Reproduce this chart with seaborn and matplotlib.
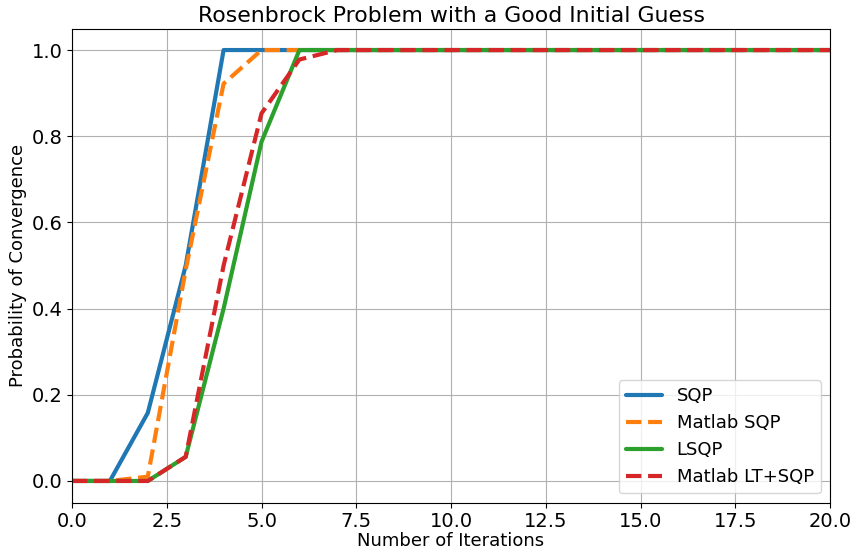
import numpy as np
import pandas as pd
import matplotlib
matplotlib.use("Agg")
import matplotlib.pyplot as plt
import seaborn as sns

iterations = list(range(0, 21))
sqp = [0.0, 0.0, 0.158, 0.50, 1.0] + [1.0] * 16
matlab_sqp = [0.0, 0.0, 0.01, 0.49, 0.922, 1.0] + [1.0] * 15
lsqp = [0.0, 0.0, 0.0, 0.056, 0.40, 0.787, 1.0] + [1.0] * 14
matlab_lt_sqp = [0.0, 0.0, 0.0, 0.056, 0.50, 0.853, 0.978, 1.0] + [1.0] * 13

labels = ["SQP", "Matlab SQP", "LSQP", "Matlab LT+SQP"]
series = [sqp, matlab_sqp, lsqp, matlab_lt_sqp]

df = pd.concat(
    [pd.DataFrame({"iter": iterations, "prob": vals, "method": name})
     for name, vals in zip(labels, series)],
    ignore_index=True,
)

sns.set_style("ticks", {"text.color": "black", "axes.labelcolor": "black",
                        "xtick.color": "black", "ytick.color": "black",
                        "axes.edgecolor": "black"})
plt.rcParams["font.family"] = ["DejaVu Sans"]

fig = plt.figure(figsize=(8.51, 5.52), dpi=100)
ax = fig.add_axes([72 / 851, 1 - 502.5 / 552, (830 - 72) / 851, (502.5 - 28.5) / 552])

palette = {"SQP": "#1f77b4", "Matlab SQP": "#ff7f0e", "LSQP": "#2ca02c", "Matlab LT+SQP": "#d62728"}
dashes = {"SQP": "", "Matlab SQP": (3.7, 1.6), "LSQP": "", "Matlab LT+SQP": (3.7, 1.6)}

sns.lineplot(data=df, x="iter", y="prob", hue="method", style="method",
             hue_order=labels, style_order=labels, palette=palette, dashes=dashes,
             linewidth=3, ax=ax)

ax.set_xlim(0, 20)
ax.set_ylim(-0.05, 1.05)
ax.set_xticks(np.arange(0, 20.1, 2.5))
ax.set_yticks(np.arange(0, 1.01, 0.2))
ax.grid(True, color="#b0b0b0", linewidth=0.8)
ax.tick_params(labelsize=14, length=3.5, pad=3, colors="black")
for s in ax.spines.values():
    s.set_color("black")
    s.set_linewidth(0.8)
ax.set_xlabel("Number of Iterations", fontsize=13, labelpad=1, color="black")
ax.set_ylabel("Probability of Convergence", fontsize=13, labelpad=4, color="black")
ax.set_title("Rosenbrock Problem with a Good Initial Guess", fontsize=15.8, pad=5, color="black")

leg = ax.legend(loc="lower right", fontsize=13, handlelength=2.0)
leg.set_title(None)
for t in leg.get_texts():
    t.set_color("black")

fig.savefig("out.png", dpi=100)
